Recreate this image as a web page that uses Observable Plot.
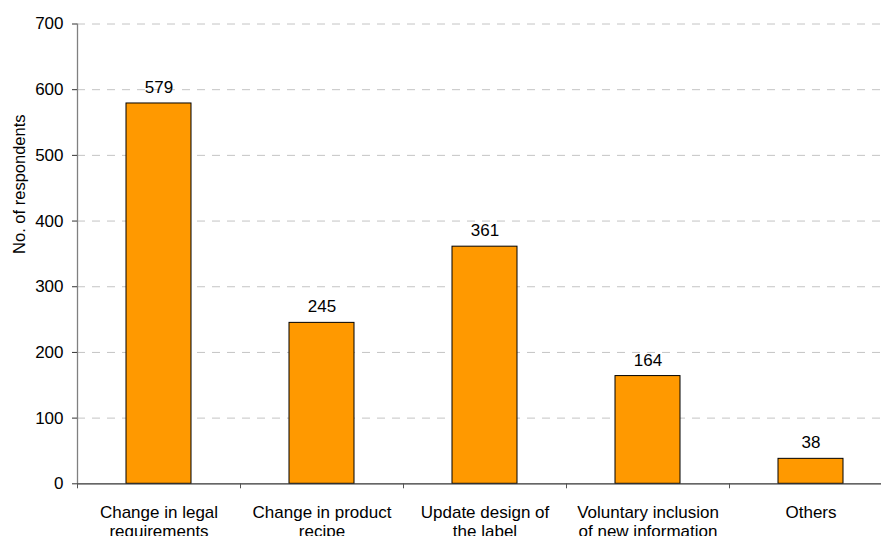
<!DOCTYPE html>
<html>
<head>
<meta charset="utf-8">
<script src="https://cdn.jsdelivr.net/npm/d3@7"></script>
<script src="https://cdn.jsdelivr.net/npm/@observablehq/plot@0.6"></script>
<style>
  html, body { margin: 0; padding: 0; background: #fff; }
  #chart { width: 881px; height: 536px; overflow: hidden; }
</style>
</head>
<body>
<div id="chart"></div>
<script>
// ---- data ----
const categories = [
  "Change in legal\nrequirements",
  "Change in product\nrecipe",
  "Update design of\nthe label",
  "Voluntary inclusion\nof new information",
  "Others"
];
const values = [579, 245, 361, 164, 38];
const yTicks = [0, 100, 200, 300, 400, 500, 600, 700];
const yLabel = "No. of respondents";

const data = categories.map((c, i) => ({category: c, value: values[i]}));

// ---- layout ----
const W = 881, H = 536;
const xRange = [77, 892];
const padIn = 0.6, padOut = 0.3;
const step = (xRange[1] - xRange[0]) / (categories.length - padIn + 2 * padOut);
const font = "'Liberation Sans', Arial, Helvetica, sans-serif";

const chart = Plot.plot({
  width: W,
  height: H,
  marginLeft: 77,
  marginRight: 0,
  marginTop: 23.5,
  marginBottom: 52.7,
  style: {fontFamily: font, fontSize: "17px", color: "#000", background: "#fff"},
  x: {domain: categories, range: xRange, paddingInner: padIn, paddingOuter: padOut, align: 0.5},
  y: {domain: [0, 700]},
  marks: [
    // dashed gridlines
    Plot.ruleY(yTicks.filter(d => d > 0), {stroke: "#c4c4c4", strokeWidth: 1, strokeDasharray: "8,7"}),
    // bars
    Plot.barY(data, {x: "category", y: "value", fill: "#FF9900", stroke: "#000", strokeWidth: 1}),
    // value labels
    Plot.text(data, {x: "category", y: "value", text: d => String(d.value), dy: -16, fontSize: 17, fill: "#000"}),
    // y axis line (at start of first band step)
    Plot.ruleX([categories[0]], {y1: 0, y2: 700, dx: -step / 2, stroke: "#808080", strokeWidth: 1.3}),
    // x axis line
    Plot.ruleY([0], {stroke: "#333", strokeWidth: 1.3}),
    // x category boundary ticks
    Plot.ruleX(categories, {y1: 0, y2: 0, insetBottom: -5, dx: -step / 2, stroke: "#555", strokeWidth: 1}),
    // y axis ticks + labels
    Plot.axisY({ticks: yTicks, tickSize: 5, tickPadding: 9, label: null, stroke: "#333", fontSize: 17}),
    // x axis labels
    Plot.axisX({tickSize: 0, tickPadding: 21, label: null, fontSize: 17, lineHeight: 1.12}),
    // y axis title
    Plot.text([yLabel], {frameAnchor: "left", rotate: -90, dx: -58, fontSize: 16.5, fill: "#000"})
  ]
});

document.getElementById("chart").appendChild(chart);
</script>
</body>
</html>
